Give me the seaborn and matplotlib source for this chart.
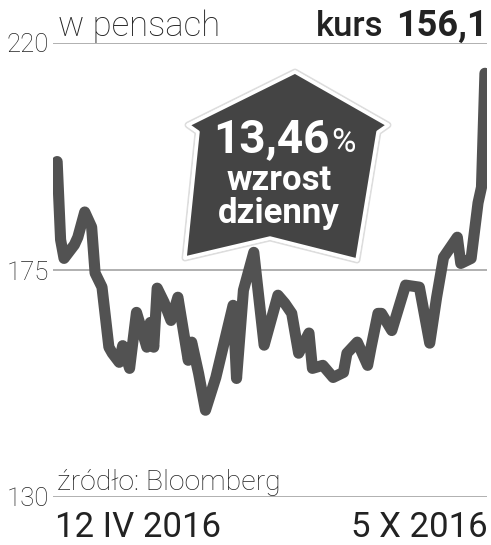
import matplotlib
matplotlib.use("Agg")
import matplotlib.pyplot as plt
import matplotlib.patheffects as pe
from matplotlib.patches import Polygon
import seaborn as sns
import pandas as pd

# trading day index (12 IV 2016 -> 5 X 2016) and price in pence
days = [0, 1, 2, 5, 6, 8, 10, 11, 13, 15, 16, 18, 19, 21, 23, 26, 27, 28, 29, 31,
        33, 35, 38, 39, 41, 43, 46, 51, 52, 54, 57, 60, 64, 66, 68, 70, 73, 74, 77, 80,
        83, 84, 87, 90, 91, 93, 94, 97, 101, 105, 108, 110, 112, 116, 117, 120, 122, 123, 124]
price = [196.5, 181.0, 177.3, 180.0, 181.5, 186.5, 183.5, 174.4, 171.6, 159.7,
         158.5, 156.7, 160.0, 155.5, 166.6, 159.7, 164.6, 159.7, 171.4, 168.6,
         165.0, 169.6, 157.1, 160.7, 154.5, 147.2, 153.7, 168.0, 153.5, 171.0,
         178.5, 160.1, 170.0, 168.4, 166.4, 158.5, 162.5, 155.5, 156.1, 153.7,
         154.7, 158.5, 160.7, 156.1, 159.7, 166.4, 166.4, 163.0, 172.0, 171.6,
         160.5, 169.6, 177.5, 181.5, 176.3, 177.3, 188.3, 191.4, 214.0]
y_ticks = [130, 175, 220]
date_labels = ["12 IV 2016", "5 X 2016"]

W, H = 491, 545
sns.set_style("white")
plt.rcParams['font.family'] = ['Roboto', 'DejaVu Sans']

fig = plt.figure(figsize=(W / 100, H / 100), dpi=100)
ax = fig.add_axes([53 / W, 1 - 497 / H, 434 / W, 454 / H])

def fx(x):
    return x / W

def fy(y):
    return 1 - y / H

df = pd.DataFrame({"day": days, "price": price})
sns.lineplot(data=df, x="day", y="price", ax=ax, color="#525252", linewidth=8,
             solid_joinstyle="round", solid_capstyle="round", zorder=3)

ax.set_xlim(-1.2, 124.6)
ax.set_ylim(130, 220)
ax.set_yticks(y_ticks)
ax.set_yticklabels([str(t) for t in y_ticks], fontsize=18.5, fontweight="light",
                   color="#222222")
ax.set_xticks([])
ax.tick_params(axis="y", length=0, pad=3)
for t in y_ticks:
    ax.axhline(t, color="#aaaaaa", lw=1.3, zorder=1)
for s in ax.spines.values():
    s.set_visible(False)
ax.set_xlabel("")
ax.set_ylabel("")
ax.patch.set_alpha(0)

# header
fig.text(fx(58), fy(36), "w pensach", fontsize=25, fontweight="light",
         color="#222222", ha="left", va="baseline")
fig.text(fx(383), fy(36), "kurs", fontsize=25, fontweight="medium", color="#222222",
         ha="right", va="baseline")
fig.text(fx(488), fy(36), "156,1", fontsize=26, fontweight="bold",
         color="#222222", ha="right", va="baseline")

# footer
fig.text(fx(57), fy(490), "źródło: Bloomberg", fontsize=20.5, fontweight="light",
         color="#222222", ha="left", va="baseline")
fig.text(fx(55), fy(537), date_labels[0], fontsize=25, color="#222222",
         ha="left", va="baseline")
fig.text(fx(488), fy(537), date_labels[1], fontsize=25, color="#222222",
         ha="right", va="baseline")

# badge
badge_px = [(295, 72), (388, 125), (378, 132), (357, 260), (270, 238),
            (185, 258), (198, 132), (188, 125)]
badge = Polygon([(fx(x), fy(y)) for x, y in badge_px], closed=True,
                transform=fig.transFigure, facecolor="#444444",
                edgecolor="white", linewidth=2.5, joinstyle="round", zorder=10,
                path_effects=[pe.SimplePatchShadow(offset=(0, 0), shadow_rgbFace="#999999", alpha=0.6),
                              pe.withStroke(linewidth=5, foreground="#dddddd"),
                              pe.Normal()])
fig.add_artist(badge)

fig.text(fx(271), fy(152), "13,46", fontsize=33, fontweight="bold",
         color="white", ha="center", va="baseline", zorder=11)
fig.text(fx(331), fy(152), "%", fontsize=24, color="white",
         ha="left", va="baseline", zorder=11)
fig.text(fx(279), fy(190), "wzrost", fontsize=25, fontweight="bold",
         color="white", ha="center", va="baseline", zorder=11)
fig.text(fx(279), fy(223), "dzienny", fontsize=25, fontweight="bold",
         color="white", ha="center", va="baseline", zorder=11)

fig.savefig("out.png", dpi=100)
